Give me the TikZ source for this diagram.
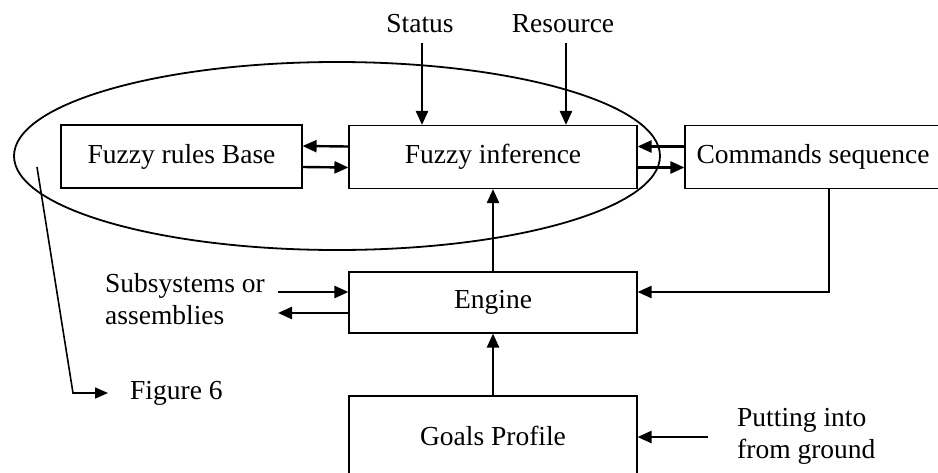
\documentclass[tikz,border=0pt]{standalone}
\usepackage{fontspec}
\setmainfont{Liberation Serif}
\usetikzlibrary{arrows.meta,shapes.geometric}
\begin{document}
\begin{tikzpicture}[x=1pt,y=-1pt,
  box/.style={draw,line width=1.1pt,rectangle,inner sep=0pt,font=\fontsize{27.5}{32}\selectfont},
  lbl/.style={inner sep=0pt,font=\fontsize{27.5}{32}\selectfont,align=left},
  arr/.style={line width=2.4pt,-{Triangle[length=14pt,width=12pt]}},
  thinarr/.style={line width=1.6pt,-{Triangle[length=13pt,width=11pt]}}]
\useasboundingbox (0,0) rectangle (938,472);
\clip (0,0) rectangle (938,472);
% boxes
\node[box,minimum width=241pt,minimum height=63pt] (rules) at (181.5,156.5) {Fuzzy rules Base};
\node[box,minimum width=288pt,minimum height=63pt] (inf) at (493,157) {Fuzzy inference};
\node[box,minimum width=256pt,minimum height=63pt] (cmd) at (813,157) {Commands sequence};
\node[box,minimum width=288pt,minimum height=61pt] (eng) at (493,302.5) {Engine};
\node[box,minimum width=288pt,minimum height=80pt] (goals) at (493,436) {Goals Profile};
% ellipse
\node[draw,ellipse,line width=1.8pt,minimum width=646pt,minimum height=188pt,inner sep=0pt] (scope) at (337,156) {};
% labels
\node[lbl] (status) at (420,24) {Status};
\node[lbl] (res) at (563,24) {Resource};
\node[lbl,anchor=west] (sub) at (105,299) {Subsystems or\\assemblies};
\node[lbl,anchor=west] (fig) at (130,393) {Figure 6};
\node[lbl,anchor=west] (put) at (737,436) {Putting into\\from ground};
% coordinates
\coordinate (s0) at (422,43);
\coordinate (r0) at (566,43);
\coordinate (sin) at (278,292);
\coordinate (sout) at (278,313);
\coordinate (f0) at (37,167);
\coordinate (f1) at (73,393);
\coordinate (f2) at (108,393);
\coordinate (p0) at (708,437);
\coordinate (c0) at (829,189);
% connectors
\draw[arr] (s0) -- (s0 |- inf.north);
\draw[arr] (r0) -- (r0 |- inf.north);
\draw[arr] ([yshift=10.5pt]inf.west) -- ([yshift=10.5pt]rules.east);
\draw[arr] ([yshift=-10.5pt]rules.east) -- ([yshift=-10.5pt]inf.west);
\draw[arr] ([yshift=10.5pt]cmd.west) -- ([yshift=10.5pt]inf.east);
\draw[arr] ([yshift=-10.5pt]inf.east) -- ([yshift=-10.5pt]cmd.west);
\draw[arr] (eng.north) -- (inf.south);
\draw[arr] (goals.north) -- (eng.south);
\draw[arr] (c0 |- cmd.south) |- ([yshift=10.5pt]eng.east);
\draw[arr] (sin) -- (sin -| eng.west);
\draw[arr] (sout -| eng.west) -- (sout);
\draw[thinarr] (f0) -- (f1) -- (f2);
\draw[arr] (p0) -- (p0 -| goals.east);
\end{tikzpicture}
\end{document}
